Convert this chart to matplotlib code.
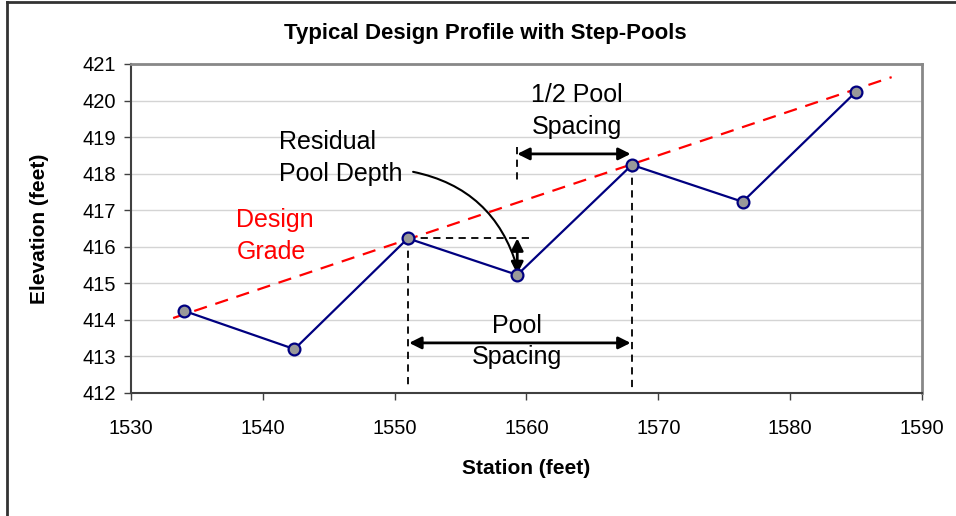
import matplotlib.pyplot as plt
from matplotlib.lines import Line2D

plt.rcParams['font.family'] = ['Liberation Sans', 'DejaVu Sans']

# profile survey points
station = [1534, 1542.4, 1551, 1559.3, 1568, 1576.4, 1585]
elevation = [414.25, 413.2, 416.23, 415.23, 418.24, 417.23, 420.24]

# design grade line end points
grade_station = [1533.2, 1587.7]
grade_elev = [414.05, 420.64]

x_ticks = [1530, 1540, 1550, 1560, 1570, 1580, 1590]
y_ticks = [412, 413, 414, 415, 416, 417, 418, 419, 420, 421]

fig = plt.figure(figsize=(9.56, 5.16), dpi=100)
ax = fig.add_axes([0.137, 0.2384, 0.8274, 0.6376])

# outer frame (left and top only)
fig.add_artist(Line2D([0.0073, 0.0073], [0, 0.996], transform=fig.transFigure, color='#333333', lw=2))
fig.add_artist(Line2D([0.0073, 1], [0.996, 0.996], transform=fig.transFigure, color='#333333', lw=2))

ax.set_xlim(1530, 1590)
ax.set_ylim(412, 421)
ax.set_xticks(x_ticks)
ax.set_yticks(y_ticks)
ax.yaxis.grid(True, color='#d4d4d4', lw=1)
ax.set_axisbelow(True)
for s in ['top', 'right']:
    ax.spines[s].set_color('#888888')
    ax.spines[s].set_linewidth(2)
for s in ['left', 'bottom']:
    ax.spines[s].set_color('#404040')
    ax.spines[s].set_linewidth(1.5)
ax.tick_params(direction='out', length=5, width=1, color='#404040', labelsize=14.5, pad=6)
ax.tick_params(axis='x', pad=14)

ax.plot(grade_station, grade_elev, color='red', lw=1.6, dashes=(6, 4), zorder=3)
ax.plot(station, elevation, color='#000080', lw=1.6, marker='o', markersize=8.5,
        markerfacecolor='#999999', markeredgecolor='#000080', markeredgewidth=1.6, zorder=4)

# dashed guides
dash = dict(color='black', lw=1.3, dashes=(4, 3), zorder=2)
ax.plot([station[2], station[2]], [elevation[2], 412.15], **dash)
ax.plot([station[4], station[4]], [elevation[4], 412.15], **dash)
ax.plot([station[2], 1560.5], [elevation[2], elevation[2]], **dash)
ax.plot([station[3], station[3]], [418.73, 417.76], **dash)

arrow = dict(arrowstyle='<|-|>', color='black', lw=2, mutation_scale=18, shrinkA=0, shrinkB=0)
ax.annotate('', xy=(station[2] + 0.1, 413.37), xytext=(station[4] - 0.1, 413.37), arrowprops=arrow)
ax.annotate('', xy=(station[3], 418.54), xytext=(station[4] - 0.1, 418.54), arrowprops=arrow)
ax.annotate('', xy=(station[3], elevation[3] + 0.02), xytext=(station[3], elevation[2]), arrowprops=arrow)

# curved leader from label
ax.annotate('', xy=(station[3], elevation[3] + 0.2), xytext=(1551.4, 418.05),
            arrowprops=dict(arrowstyle='-', color='black', lw=1.5,
                            connectionstyle='arc3,rad=-0.3', shrinkA=0, shrinkB=0))

ax.text(1541.2, 418.43, 'Residual\nPool Depth', fontsize=18, ha='left', va='center', linespacing=1.45)
ax.text(1538.0, 416.3, 'Design\nGrade', fontsize=18, ha='left', va='center', color='red', linespacing=1.4)
ax.text(1563.8, 419.71, '1/2 Pool\nSpacing', fontsize=18, ha='center', va='center', linespacing=1.4)
ax.text(1559.3, 413.4, 'Pool\nSpacing', fontsize=18, ha='center', va='center', linespacing=1.38)

fig.text(0.508, 0.936, 'Typical Design Profile with Step-Pools', fontsize=16, fontweight='bold',
         ha='center', va='center')
ax.set_xlabel('Station (feet)', fontsize=15, fontweight='bold', labelpad=15)
ax.set_ylabel('Elevation (feet)', fontsize=15, fontweight='bold', labelpad=24)

fig.savefig('out.png', dpi=100)
